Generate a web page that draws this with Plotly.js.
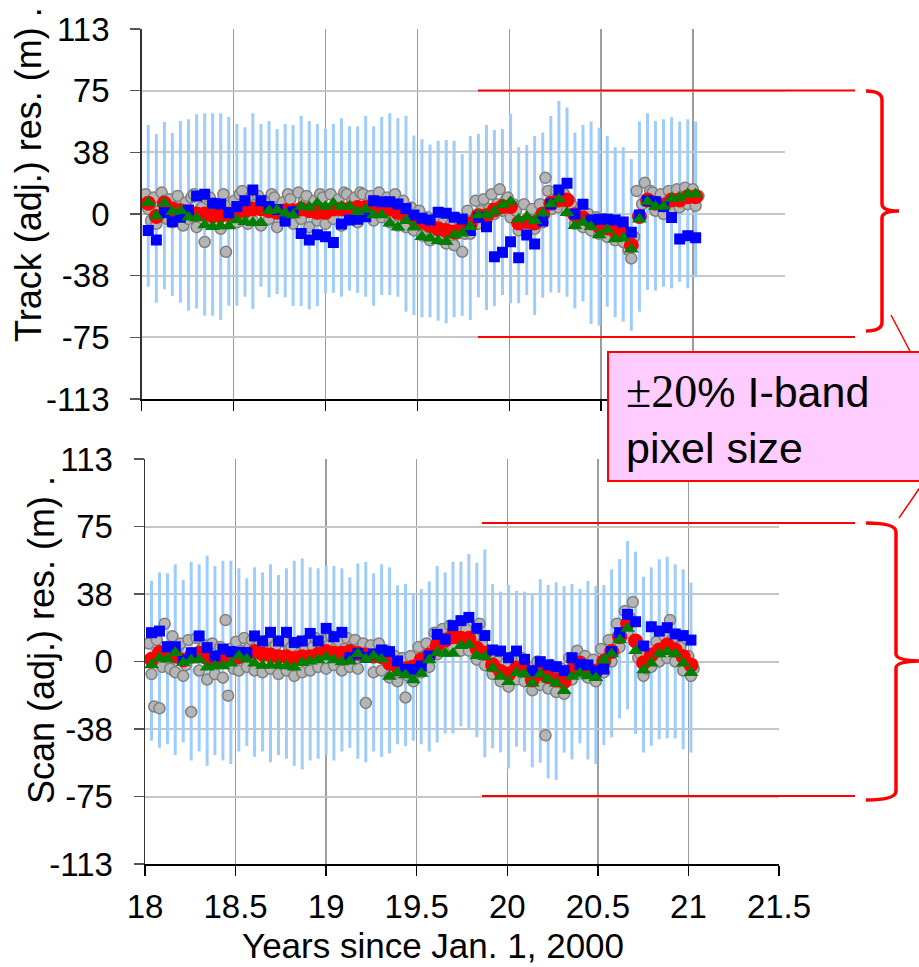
<!DOCTYPE html>
<html>
<head>
<meta charset="utf-8">
<script src="https://cdn.plot.ly/plotly-3.0.1.min.js"></script>
<style>
  html, body { margin: 0; padding: 0; background: #ffffff; }
  #chart { width: 919px; height: 967px; }
</style>
</head>
<body>
<div id="chart"></div>
<script>
// 16-day repeat-cycle epochs (years since Jan. 1, 2000)
const passYears = [
  18.036, 18.080, 18.124, 18.167, 18.211, 18.255, 18.299, 18.343, 18.386, 18.430,
  18.474, 18.518, 18.562, 18.605, 18.649, 18.693, 18.737, 18.781, 18.824, 18.868,
  18.912, 18.956, 19.000, 19.043, 19.087, 19.131, 19.175, 19.219, 19.262, 19.306,
  19.350, 19.394, 19.438, 19.481, 19.525, 19.569, 19.613, 19.657, 19.700, 19.744,
  19.788, 19.832, 19.876, 19.919, 19.963, 20.007, 20.051, 20.095, 20.138, 20.182,
  20.226, 20.270, 20.314, 20.357, 20.401, 20.445, 20.489, 20.533, 20.576, 20.620,
  20.664, 20.708, 20.752, 20.795, 20.839, 20.883, 20.927, 20.971, 21.014
];

// individual scene epochs (grey points)
const sceneYears = [
  18.021, 18.036, 18.051, 18.065, 18.080, 18.095, 18.109, 18.124, 18.139,
  18.152, 18.167, 18.182, 18.196, 18.211, 18.226, 18.240, 18.255, 18.270,
  18.284, 18.299, 18.314, 18.328, 18.343, 18.358, 18.371, 18.386, 18.401,
  18.415, 18.430, 18.445, 18.459, 18.474, 18.489, 18.503, 18.518, 18.533,
  18.547, 18.562, 18.577, 18.590, 18.605, 18.620, 18.634, 18.649, 18.664,
  18.678, 18.693, 18.708, 18.722, 18.737, 18.752, 18.766, 18.781, 18.796,
  18.809, 18.824, 18.839, 18.853, 18.868, 18.883, 18.897, 18.912, 18.927,
  18.941, 18.956, 18.971, 18.985, 19.000, 19.015, 19.028, 19.043, 19.058,
  19.072, 19.087, 19.102, 19.116, 19.131, 19.146, 19.160, 19.175, 19.190,
  19.204, 19.219, 19.234, 19.247, 19.262, 19.277, 19.291, 19.306, 19.321,
  19.335, 19.350, 19.365, 19.379, 19.394, 19.409, 19.423, 19.438, 19.453,
  19.466, 19.481, 19.496, 19.510, 19.525, 19.540, 19.554, 19.569, 19.584,
  19.598, 19.613, 19.628, 19.642, 19.657, 19.672, 19.685, 19.700, 19.715,
  19.729, 19.744, 19.759, 19.773, 19.788, 19.803, 19.817, 19.832, 19.847,
  19.861, 19.876, 19.891, 19.904, 19.919, 19.934, 19.948, 19.963, 19.978,
  19.992, 20.007, 20.022, 20.036, 20.051, 20.066, 20.080, 20.095, 20.110,
  20.123, 20.138, 20.153, 20.167, 20.182, 20.197, 20.211, 20.226, 20.241,
  20.255, 20.270, 20.285, 20.299, 20.314, 20.329, 20.342, 20.357, 20.372,
  20.386, 20.401, 20.416, 20.430, 20.445, 20.460, 20.474, 20.489, 20.504,
  20.518, 20.533, 20.548, 20.561, 20.576, 20.591, 20.605, 20.620, 20.635,
  20.649, 20.664, 20.679, 20.693, 20.708, 20.723, 20.737, 20.752, 20.767,
  20.780, 20.795, 20.810, 20.824, 20.839, 20.854, 20.868, 20.883, 20.898,
  20.912, 20.927, 20.942, 20.956, 20.971, 20.986, 20.999, 21.014, 21.029
];

// ---- Track panel (m) ----
const trackBarTop = [
  54.1, 48.7, 56.0, 49.3, 56.6, 57.6, 60.6, 61.2, 61.2, 61.2,
  59.0, 54.9, 52.7, 61.2, 54.9, 56.6, 51.7, 54.9, 54.1, 59.8,
  56.6, 54.9, 51.7, 54.9, 58.2, 53.3, 53.3, 59.8, 53.3, 59.0,
  61.2, 58.2, 59.8, 47.8, 45.4, 42.2, 44.6, 45.0, 44.6, 36.5,
  47.4, 48.7, 54.1, 51.1, 51.7, 60.8, 40.6, 42.0, 47.4, 49.5,
  59.6, 68.7, 64.7, 49.5, 54.1, 56.2, 52.5, 47.4, 40.6, 40.6,
  33.5, 56.2, 61.2, 56.6, 57.6, 58.8, 56.2, 57.6, 56.2
];
const trackBarBottom = [
  -44.2, -54.0, -45.8, -49.9, -54.0, -58.8, -57.4, -61.8, -61.8, -64.5,
  -55.8, -55.8, -50.3, -57.8, -44.2, -50.7, -48.7, -50.7, -56.0, -56.0,
  -58.0, -56.0, -48.3, -47.9, -50.3, -46.6, -47.9, -50.3, -55.8, -49.3,
  -49.3, -50.3, -59.4, -61.4, -62.8, -62.8, -64.9, -66.5, -62.8, -62.0,
  -64.5, -50.7, -58.4, -56.0, -49.3, -54.3, -54.3, -49.3, -61.4, -50.9,
  -47.7, -47.9, -50.3, -57.4, -53.3, -66.9, -67.9, -56.4, -62.8, -65.5,
  -71.0, -59.4, -46.2, -46.6, -44.2, -45.2, -41.2, -45.2, -38.5
];
const trackGray = [
  12, 3, -4,   10, -6, 2,   13, 8, -3,   9, -5, 4,   11, 0, -7,
  7, -3, 10,   12, -8, 2,   4, -17, 9,   10, -6, 3,   6, -9, 12,
  -23, 5, -4,  8, -5, 12,   14, 2, -6,   10, -4, 6,   11, -7, 4,
  8, -3, 12,   10, -8, 3,   7, -4, 12,   9, -6, 2,    13, -3, 8,
  11, -8, 5,   8, -4, 12,   10, -6, 3,   12, -3, 7,   9, -7, 13,
  12, -2, 8,   10, -5, 13,  12, 0, 7,    11, -4, 9,   13, -2, 7,
  10, -5, 8,   12, -7, 4,   8, -8, 2,    4, -10, -3,  2, -13, -6,
  -2, -16, -9, -3, -15, -10, -5, -18, -8, -6, -19, -12, -4, -23, -12,
  2, -12, -5,  8, -6, 2,    9, -4, 3,    12, 0, 6,    15, 2, 8,
  10, -2, 6,   2, -10, -6,  6, -9, -3,   3, -9, -4,   6, -5, 22,
  14, 3, 9,    14, 4, 10,   12, 2, 8,    5, -6, 1,    3, -8, -2,
  0, -10, -5,  -2, -12, -6, -3, -14, -8, -6, -16, -10, -8, -17, -12,
  -22, -27, -14, 14, -2, 6, 19, 8, 14,   13, 2, 9,    12, 0, 6,
  14, 3, 9,    15, 4, 11,   16, 6, 12,   15, 5, 11
];
const trackRed = [
  6.5, -1.5, 6.5, 3, 2, 1, 0, 0, -1, -1,
  0, 1, 2, 3, 3, 2, 1, 2, 2, 3,
  2, 1, 1, 3, 3, 3, 4, 4, 4, 4,
  3, 1, -1, -3, -5, -7, -9, -10, -11, -9,
  -6, -1, -1, 2.5, 4.5, 4.5, -5.5, -4.5, -5.5, 0,
  6.5, 8.5, 8.5, -0.5, -2.5, -5.5, -7.5, -8.5, -10.5, -11.5,
  -19, -1.5, 8.5, 6.5, 5.5, 8.5, 8.5, 10.5, 10.5
];
const trackBlue = [
  -10.1, -15.8, 0.8, -4.7, -2.0, 2.4, 10.9, 12.0, 6.5, 6.1,
  0.8, 4.5, 8.1, 14.6, 8.1, 4.5, 2.8, -4.3, 1.4, -11.8,
  -15.8, -12.6, -13.8, -17.4, -6.1, -3.6, -3.2, -1.6, 8.1, 7.5,
  7.5, 6.1, 3.4, -0.6, -2.6, -3.6, 1.0, 0.4, -2.0, -3.0,
  -10.0, -2.0, -7.7, -26.0, -23.3, -16.8, -26.6, -12.8, -18.2, -4.3,
  6.1, 14.6, 18.7, 0.0, 5.9, -3.6, -3.2, -3.2, -3.6, -4.9,
  -11.1, -0.6, 8.1, 7.5, 4.5, -2.2, -15.2, -13.2, -14.4
];
const trackGreen = [
  6.9, -1.2, 6.5, 1.4, 2.0, -2.0, -2.6, -6.7, -7.7, -7.3,
  -7.3, -3.6, -4.7, -5.3, -5.3, 2.0, 2.4, 0.4, -0.6, 4.5,
  4.1, 6.5, 4.5, 6.5, 4.5, 4.5, 1.4, 2.8, -0.6, -0.6,
  -5.7, -8.1, -4.1, -8.1, -13.8, -14.8, -16.2, -16.8, -12.8, -11.7,
  -7.7, -0.6, -0.6, 1.4, 5.5, 7.5, -3.2, -1.6, -4.1, 0.4,
  6.1, 8.9, 0.8, -7.1, -5.1, -7.7, -12.8, -9.7, -15.2, -14.8,
  -21.5, -3.2, 7.5, 4.5, 4.5, 9.5, 9.9, 12.2, 12.2
];

// ---- Scan panel (m) ----
const scanBarTop = [
  44.9, 49.5, 49.0, 54.0, 45.3, 55.3, 54.0, 58.8, 53.1, 56.0,
  56.0, 51.8, 46.2, 52.3, 49.5, 54.0, 48.1, 51.8, 56.0, 57.3,
  52.3, 51.8, 53.1, 53.1, 51.8, 46.8, 54.5, 55.3, 49.0, 54.0,
  52.3, 42.3, 43.1, 37.3, 40.3, 44.5, 53.1, 49.5, 55.3, 55.5,
  59.7, 54.9, 62.3, 43.1, 38.8, 42.5, 39.2, 38.8, 37.3, 45.7,
  42.5, 44.0, 41.9, 43.1, 40.3, 44.7, 41.9, 42.5, 51.2, 56.9,
  66.9, 61.0, 47.1, 52.3, 56.8, 58.2, 54.0, 51.2, 43.8
];
const scanBarBottom = [
  -44, -48, -46, -52, -45, -55, -50, -58, -52, -55,
  -57, -50, -47, -53, -50, -56, -52, -54, -58, -60,
  -55, -54, -52, -55, -50, -48, -54, -56, -50, -53,
  -51, -46, -47, -44, -46, -50, -45, -40, -40, -36,
  -38, -42.1, -53.2, -48.2, -50.5, -59.4, -47.3, -50.1, -58.8, -56.2,
  -64.9, -65.8, -50.6, -54.4, -45.5, -54.4, -56.9, -46.4, -42.1, -31.6,
  -26.6, -40.3, -50.6, -46.9, -43.2, -42.7, -42.7, -48.8, -50.6
];
const scanGray = [
  10, -7, -25,  12, -26, -3,  21, 8, -4,   14, -6, 8,   10, -8, -2,
  12, -28, 4,   13, -5, 7,    9, -10, 2,   10, -7, 3,   8, -9, 23,
  -19, 7, -4,   11, -5, 6,    13, -3, 8,   12, -5, 9,   10, -6, 5,
  12, -4, 8,    9, -7, 3,     11, -5, 7,   8, -8, 3,    10, -6, 6,
  12, -5, 8,    13, -3, 7,    12, -4, 9,   14, -2, 8,   11, -5, 7,
  13, -3, 9,    12, -4, 8,    10, -23, 6,  9, -6, 4,    10, -5, 5,
  6, -9, 1,     3, -11, -6,   2, -20, -8,  3, -11, -6,  8, -6, 2,
  10, -3, 6,    16, 4, 10,    18, 6, 12,   20, 8, 14,   19, 6, 13,
  18, 6, 12,    13, 1, 21,    10, -2, 5,   4, -7, -1,   0, -11, -4,
  -1, -14, -6,  3, -10, -2,   2, -11, -4,  -3, -16, -9, 0, -13, -5,
  -41, -15, -2, -3, -17, -9,  -4, -18, -10, 2, -10, -3, 6, -6, 2,
  3, -9, -1,    1, -11, -4,   7, -6, 2,    12, 0, 6,    21, 8, 15,
  28, 16, 24,   33, 11, 2,    4, -8, -4,   8, -3, 2,    11, 0, 6,
  14, 2, 23,    12, 0, 8,     8, -5, 2,    3, -8, -4
];
const scanRed = [
  1.2, 5.0, 4.6, 3.0, 0.8, 3.0, 4.6, 2.0, 0.8, 2.6,
  2.6, 2.6, 4.0, 5.5, 4.0, 3.6, 2.6, 2.6, 1.7, 2.6,
  2.6, 4.0, 5.5, 4.6, 4.6, 5.5, 4.5, 3.6, 3.0, 2.6,
  -1.0, -3.0, -4.0, -3.0, 1.0, 3.6, 9.0, 11.9, 13.8, 12.9,
  12.9, 7.3, 4.6, -1.9, -5.6, -7.0, -3.8, -4.7, -10.3, -6.6,
  -8.5, -10.3, -11.2, -4.7, -0.8, -3.8, -5.6, 0.0, 5.5, 13.8,
  21.2, 11.4, -0.7, 3.6, 6.4, 9.2, 6.4, 2.7, -1.9
];
const scanBlue = [
  16.0, 16.9, 8.2, 8.2, 0.8, 4.9, 14.2, 7.7, 3.1, 6.9,
  5.5, 5.1, 4.9, 14.2, 11.4, 16.2, 11.4, 16.2, 10.6, 11.4,
  15.6, 11.4, 18.4, 13.8, 16.2, 2.1, 4.5, 2.3, 4.2, 6.4,
  5.5, 0.3, -4.4, -4.4, -2.5, 3.1, 15.1, 12.3, 19.9, 22.7,
  24.5, 18.4, 14.4, 6.4, 5.8, 2.1, 5.8, 1.2, -5.1, -0.1,
  -1.9, -2.9, -5.1, 2.1, -1.6, -1.9, -5.3, -4.2, 5.4, 16.0,
  26.2, 22.1, 8.6, 19.3, 16.9, 18.8, 15.3, 14.4, 11.9
];
const scanGreen = [
  -1.9, 1.8, 1.2, 4.9, -0.7, 0.8, 0.8, -3.2, -2.5, -2.5,
  -1.0, 3.1, 1.2, -1.0, -2.2, -2.1, -2.1, -2.5, -3.2, -0.7,
  0.2, 0.8, 2.3, 0.8, -0.3, 0.2, 4.2, 1.2, 3.1, 1.2,
  -8.4, -6.2, -7.5, -10.3, -6.6, 0.8, 4.9, 4.5, 4.5, 8.8,
  9.2, 3.2, 2.7, -3.8, -8.4, -11.2, -6.2, -7.1, -12.1, -7.1,
  -9.9, -12.1, -16.2, -8.4, -6.6, -8.1, -9.0, 0.8, 4.2, 11.9,
  18.4, 6.0, -4.7, -1.0, 4.2, 5.4, 4.2, -1.0, -6.2
];

// ---- axis ticks ----
const xTickVals = [18, 18.5, 19, 19.5, 20, 20.5, 21, 21.5];
const xTickText = ['18', '18.5', '19', '19.5', '20', '20.5', '21', '21.5'];
const yTickVals = [-112.5, -75, -37.5, 0, 37.5, 75, 112.5];
const yTickText = ['-113', '-75', '-38', '0', '38', '75', '113'];

// ---------------------------------------------------------------
const FONT = 'Arial, "Liberation Sans", sans-serif';
const W = 919, H = 967, ML = 141, MR = 134, MT = 29, MB = 103;
const plotW = W - ML - MR, plotH = H - MT - MB;
const px = p => (p - ML) / plotW;          // page pixel -> paper x
const py = p => (H - MB - p) / plotH;      // page pixel -> paper y

// vertical range bars drawn as broken line segments
function rangeSegments(xs, lo, hi) {
  const x = [], y = [];
  xs.forEach((v, i) => { x.push(v, v, null); y.push(lo[i], hi[i], null); });
  return { x, y };
}

function panelTraces(xa, ya, lo, hi, gray, red, blue, green) {
  const seg = rangeSegments(passYears, lo, hi);
  return [
    { x: seg.x, y: seg.y, xaxis: xa, yaxis: ya, mode: 'lines', type: 'scatter',
      line: { color: '#9fcdfb', width: 3 }, hoverinfo: 'skip' },
    { x: sceneYears, y: gray, xaxis: xa, yaxis: ya, mode: 'markers', type: 'scatter',
      marker: { symbol: 'circle', size: 11, color: '#b5b5b5', line: { color: '#7f7f7f', width: 1.5 } } },
    { x: passYears, y: red, xaxis: xa, yaxis: ya, mode: 'markers', type: 'scatter',
      marker: { symbol: 'circle', size: 15, color: '#ff0000' } },
    { x: passYears, y: blue, xaxis: xa, yaxis: ya, mode: 'markers', type: 'scatter',
      marker: { symbol: 'square', size: 11, color: '#0000ff' } },
    { x: passYears, y: green, xaxis: xa, yaxis: ya, mode: 'markers', type: 'scatter',
      marker: { symbol: 'triangle-up', size: 13, color: '#007f00' } }
  ];
}

const traces = [].concat(
  panelTraces('x', 'y', trackBarBottom, trackBarTop, trackGray, trackRed, trackBlue, trackGreen),
  panelTraces('x2', 'y2', scanBarBottom, scanBarTop, scanGray, scanRed, scanBlue, scanGreen)
);

const tickFont = { family: FONT, size: 33, color: '#000' };
function yAxis(domain, anchor) {
  return {
    domain, anchor, range: [-112.5, 112.5], tickmode: 'array',
    tickvals: yTickVals, ticktext: yTickText, tickfont: tickFont,
    ticks: 'outside', ticklen: 10, tickwidth: 1.5, tickcolor: '#555',
    ticklabelstandoff: 14,
    showline: true, linecolor: '#333', linewidth: 1.5,
    showgrid: true, gridcolor: '#c6c6c6', gridwidth: 2,
    zeroline: false, fixedrange: true
  };
}
function xAxis(domain, anchor, labels) {
  return {
    domain, anchor, range: [18, 21.5], tickmode: 'array',
    tickvals: xTickVals, ticktext: xTickText, showticklabels: labels,
    tickfont: tickFont, ticks: 'outside', ticklen: 10, tickwidth: 1.5, tickcolor: '#000',
    ticklabelstandoff: 3,
    showline: true, linecolor: '#000', linewidth: 1.5,
    showgrid: true, gridcolor: '#9c9c9c', gridwidth: 1.5,
    zeroline: false, fixedrange: true
  };
}

const red = '#ff0000';
const hline = (x0, x1, y) => ({ type: 'line', xref: 'paper', yref: 'paper', layer: 'above',
  x0: px(x0), x1: px(x1), y0: py(y), y1: py(y), line: { color: red, width: 2 } });
function brace(xEnd, xBar, xTip, yTop, yMid, yBot) {
  const P = (x, y) => px(x).toFixed(5) + ',' + py(y).toFixed(5);
  const path = 'M' + P(xEnd, yTop) + ' Q' + P(xBar, yTop) + ' ' + P(xBar, yTop + 9) +
    ' L' + P(xBar, yMid - 7) + ' Q' + P(xBar, yMid) + ' ' + P(xTip, yMid) +
    ' Q' + P(xBar, yMid) + ' ' + P(xBar, yMid + 7) +
    ' L' + P(xBar, yBot - 9) + ' Q' + P(xBar, yBot) + ' ' + P(xEnd, yBot);
  return { type: 'path', xref: 'paper', yref: 'paper', layer: 'above', path,
    line: { color: red, width: 3.5 } };
}

const shapes = [
  hline(478, 855, 90.5), hline(478, 855, 337),
  hline(482, 855, 523), hline(482, 855, 796),
  brace(866, 882, 899, 91, 211, 331),
  brace(866, 896, 925, 523, 661, 800),
  { type: 'line', xref: 'paper', yref: 'paper', layer: 'above',
    x0: px(891), y0: py(315), x1: px(911), y1: py(353), line: { color: red, width: 1.5 } },
  { type: 'line', xref: 'paper', yref: 'paper', layer: 'above',
    x0: px(921), y0: py(486), x1: px(899), y1: py(518), line: { color: red, width: 1.5 } },
  { type: 'rect', xref: 'paper', yref: 'paper', layer: 'above',
    x0: px(608), y0: py(352), x1: px(935), y1: py(481),
    fillcolor: '#ffccff', line: { color: red, width: 2 } }
];

const titleFont = { family: FONT, size: 36, color: '#000' };
const annotations = [
  { xref: 'paper', yref: 'paper', x: px(29), y: py(175), xanchor: 'center', yanchor: 'middle',
    text: 'Track (adj.) res. (m) .', textangle: -90, showarrow: false, font: titleFont },
  { xref: 'paper', yref: 'paper', x: px(41), y: py(640), xanchor: 'center', yanchor: 'middle',
    text: 'Scan (adj.) res. (m) .', textangle: -90, showarrow: false, font: titleFont },
  { xref: 'paper', yref: 'paper', x: px(433), y: py(946), xanchor: 'center', yanchor: 'middle',
    text: 'Years since Jan. 1, 2000', showarrow: false,
    font: { family: FONT, size: 35, color: '#000' } },
  { xref: 'paper', yref: 'paper', x: px(624), y: py(419), xanchor: 'left', yanchor: 'middle',
    align: 'left', showarrow: false, font: { family: FONT, size: 43, color: '#000' },
    text: '<span style="font-family:\'Liberation Serif\',\'Times New Roman\',serif;font-size:46px">±20</span>% I-band<br>pixel size' }
];

const layout = {
  width: W, height: H,
  margin: { l: ML, r: MR, t: MT, b: MB, pad: 0 },
  paper_bgcolor: '#ffffff', plot_bgcolor: '#ffffff',
  showlegend: false, hovermode: false,
  font: { family: FONT, color: '#000' },
  xaxis: xAxis([0.001, 1], 'y', false),
  yaxis: yAxis([py(399), 1], 'x'),
  xaxis2: xAxis([px(145), px(779)], 'y2', true),
  yaxis2: yAxis([0, py(459)], 'x2'),
  shapes, annotations
};

Plotly.newPlot('chart', traces, layout, { displayModeBar: false, staticPlot: true });
</script>
</body>
</html>
